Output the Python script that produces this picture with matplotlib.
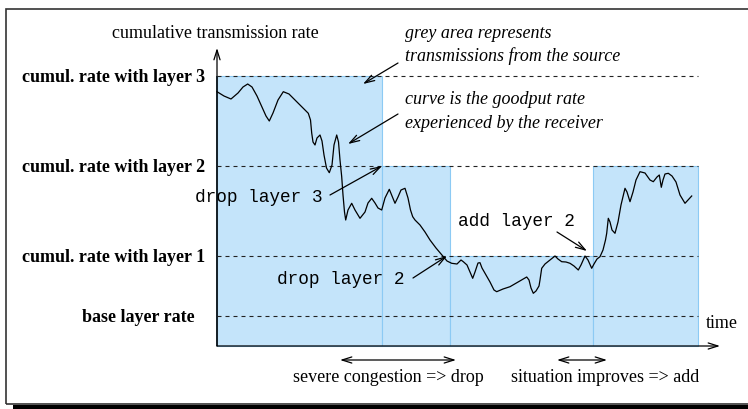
import numpy as np
import matplotlib
matplotlib.use("Agg")
import matplotlib.pyplot as plt
from matplotlib.patches import Rectangle

# rate levels (arbitrary units) and the label for each
levels = [30, 90, 180, 270]
level_names = ["base layer rate", "cumul. rate with layer 1",
               "cumul. rate with layer 2", "cumul. rate with layer 3"]

# what the source sends: start time, duration, cumulative rate
seg_start = [0, 165, 233, 376]
seg_width = [165, 68, 143, 105]
seg_rate = [270, 180, 90, 180]
t_end = 481

# goodput seen by the receiver
curve_t = [0, 7, 14, 21, 26, 30.7, 35, 40, 45, 49, 52.3, 56, 61, 66.3, 72, 79.7, 86, 91.3,
           93.5, 94.7, 96, 98, 100, 103, 105, 107, 109.5, 112.3, 115, 117, 119.7, 121.5,
           123, 124.7, 126, 127.5, 128.7, 131, 134.7, 138, 143, 148, 151, 154.7, 158, 161,
           164.7, 168, 172.3, 175, 178, 181, 184, 188, 191, 193.5, 195.7, 198, 203, 208,
           213, 219, 226.3, 230, 234.7, 240, 244, 246.3, 250, 253, 255.7, 258, 261, 263,
           265, 268, 273, 277, 279.7, 286, 293, 301, 309.7, 312, 314, 316.3, 319, 322, 323,
           324.7, 328, 333, 338, 341, 344.7, 349, 353, 357, 361.3, 364, 368, 371, 374.7,
           377, 380, 383, 386, 388.5, 389.7, 391.3, 393, 395, 398, 401, 404, 408, 410, 413,
           416, 419, 423, 428, 433, 436.3, 440, 442.3, 444.3, 446, 448, 451.3, 455, 459,
           463, 468, 471, 474.7]
curve_r = [254.3, 250, 247, 253, 259, 262, 259, 250, 239, 230, 225, 233, 246, 254.3, 252,
           244.3, 238, 232.7, 226, 213, 204, 201, 208, 211, 205, 191, 178, 173.3, 181, 201,
           211, 204, 186, 169.3, 151, 134, 126, 136, 142.7, 136, 127.7, 134, 143, 147.7,
           143, 138, 136, 148, 156.7, 150, 142.7, 149, 156, 157.7, 148, 136, 129.3, 126,
           121, 114, 106, 98, 89.3, 85, 82.7, 82, 86, 84.3, 81, 74, 67.7, 74, 83, 83.3, 78,
           72.7, 64, 56, 54.3, 57, 59.3, 64, 69, 66, 58, 52.7, 55, 60, 66, 77.7, 82, 86, 90,
           87, 84.3, 84, 82.7, 80, 76, 81, 90, 86, 77.7, 82, 87, 89.3, 96, 106, 112.7, 127.7,
           124, 116, 112.7, 124, 141, 157.7, 154, 144.3, 154, 166, 174.3, 173, 166, 164.3,
           169, 171, 158.7, 166, 172, 172.7, 170, 164, 151, 142.7, 146, 150]

serif = "Liberation Serif"
mono = "Liberation Mono"
fs = 13
fs_mono = 12.8

fig = plt.figure(figsize=(7.48, 4.09), dpi=100)
ax = fig.add_axes([0, 0, 1, 1])
ax.set_xlim(-217, 531)
ax.set_ylim(-63, 346)
ax.axis("off")

# frame with drop shadow (right side is cut off in the original)
ax.add_patch(Rectangle((-204, -63), 760, 4.5, facecolor="black", edgecolor="none"))
ax.add_patch(Rectangle((-211, -58), 900, 395, facecolor="none", edgecolor="#333333", lw=1.2))

# source transmissions
ax.bar(seg_start, seg_rate, width=seg_width, align="edge", color="#c4e4fa",
       edgecolor="#8ccaf4", linewidth=0.8, zorder=1)
ax.vlines(0, 0, seg_rate[0], color="#3c5a6e", lw=1.4, zorder=3)

# level lines
ax.hlines(levels, 0, t_end, colors="#222222", linestyles=(0, (3.6, 3.6)), lw=0.8, zorder=2)
label_x = [-22, -12, -12, -12]
for lv, name, lx in zip(levels, level_names, label_x):
    ax.text(lx, lv - 2, name, ha="right", va="center", fontsize=fs,
            fontweight="bold", family=serif)

# goodput curve
ax.plot(curve_t, curve_r, color="black", lw=0.9, zorder=4, solid_joinstyle="round")

# axes with arrows
arr = dict(arrowstyle="->,head_length=0.7,head_width=0.22", color="black", lw=0.9,
           shrinkA=0, shrinkB=0)
ax.annotate("", xy=(0, 298), xytext=(0, 0), arrowprops=arr, zorder=5)
ax.annotate("", xy=(503, 0), xytext=(0, 0), arrowprops=arr, zorder=5)
ax.text(-2, 312, "cumulative transmission rate", ha="center", va="center",
        fontsize=fs, family=serif)
ax.text(489, 22, "time", ha="left", va="center", fontsize=fs, family=serif)

# explanations
ax.text(188, 313, "grey area represents", ha="left", va="center", fontsize=fs,
        style="italic", family=serif)
ax.text(188, 290, "transmissions from the source", ha="left", va="center", fontsize=fs,
        style="italic", family=serif)
ax.text(188, 246, "curve is the goodput rate", ha="left", va="center", fontsize=fs,
        style="italic", family=serif)
ax.text(188, 222, "experienced by the receiver", ha="left", va="center", fontsize=fs,
        style="italic", family=serif)
ax.annotate("", xy=(146, 262), xytext=(181, 283), arrowprops=arr)
ax.annotate("", xy=(131, 202), xytext=(181, 232), arrowprops=arr)

# events
ax.text(-22, 148, "drop layer 3", ha="left", va="center", fontsize=fs_mono, family=mono)
ax.annotate("", xy=(165, 180), xytext=(113, 151), arrowprops=arr)
ax.text(60, 66, "drop layer 2", ha="left", va="center", fontsize=fs_mono, family=mono)
ax.annotate("", xy=(230, 90), xytext=(196, 68), arrowprops=arr)
ax.text(241, 125, "add layer 2", ha="left", va="center", fontsize=fs_mono, family=mono)
ax.annotate("", xy=(370, 95), xytext=(340, 114), arrowprops=arr)

# periods
dbl = dict(arr, arrowstyle="<->,head_length=0.7,head_width=0.22")
ax.annotate("", xy=(239, -14), xytext=(123, -14), arrowprops=dbl)
ax.annotate("", xy=(390, -14), xytext=(340, -14), arrowprops=dbl)
ax.text(76, -32, "severe congestion => drop", ha="left", va="center", fontsize=fs,
        family=serif)
ax.text(294, -32, "situation improves => add", ha="left", va="center", fontsize=fs,
        family=serif)

fig.savefig("out.png", dpi=100)
